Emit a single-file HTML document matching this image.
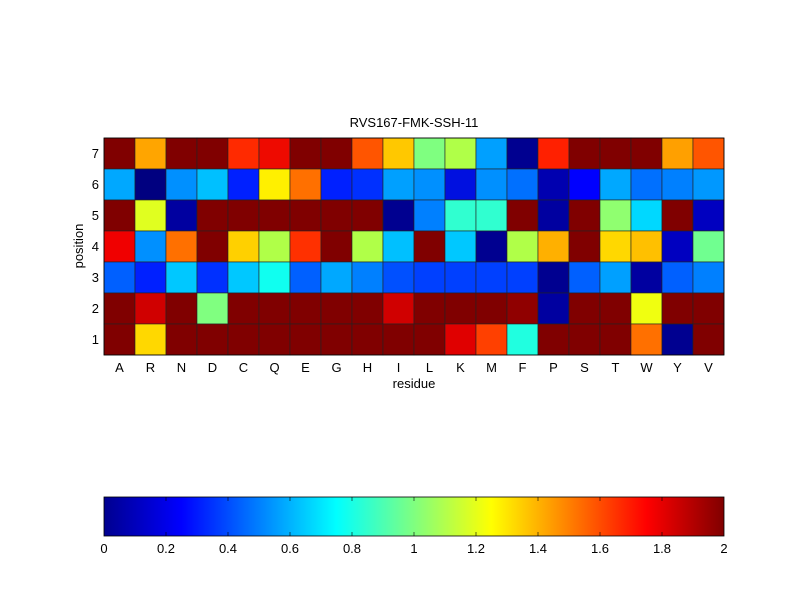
<!DOCTYPE html>
<html><head><meta charset="utf-8"><style>body{margin:0;background:#fff}svg{display:block}text{font-family:"Liberation Sans",sans-serif;font-size:13px;fill:#000}</style></head>
<body>
<svg width="800" height="600" xmlns="http://www.w3.org/2000/svg">
<defs>
<linearGradient id="jet" x1="0" x2="1" y1="0" y2="0">
<stop offset="0" stop-color="#00008F"/><stop offset="0.125" stop-color="#0000FF"/><stop offset="0.375" stop-color="#00FFFF"/><stop offset="0.625" stop-color="#FFFF00"/><stop offset="0.875" stop-color="#FF0000"/><stop offset="1" stop-color="#800000"/>
</linearGradient>
</defs>
<text x="414" y="127" text-anchor="middle">RVS167-FMK-SSH-11</text>
<g id="cells" stroke="#222" stroke-width="0.6"></g>
<rect x="104" y="138" width="620" height="217" fill="none" stroke="#000" stroke-width="0.8"/>
<g id="yt" text-anchor="end"></g>
<g id="xt" text-anchor="middle"></g>
<text x="414" y="388" text-anchor="middle">residue</text>
<text transform="translate(83,246) rotate(-90)" text-anchor="middle">position</text>
<rect x="104" y="497" width="620" height="39" fill="url(#jet)" stroke="#000" stroke-width="0.8"/>
<g id="cb" text-anchor="middle"></g>
</svg>
<script>
const D="#800000";
const rows=[
[D,"#FFA500",D,D,"#FF2A00","#EE0A00",D,D,"#FF5500","#FFC800","#7FFF80","#B0FF48","#00A0FF","#000090","#FF2000",D,D,D,"#FFA000","#FF5500"],
["#00A8FF","#000080","#0090FF","#00C0FF","#0020FF","#FFF000","#FF7000","#0020FF","#0030FF","#00A0FF","#0090FF","#0010E0","#0090FF","#0070FF","#0000B0","#0000FF","#00A8FF","#0070FF","#0080FF","#0098FF"],
[D,"#E0FF20","#0000A0",D,D,D,D,D,D,"#000090","#0080FF","#30FFD0","#30FFD0",D,"#0000A0",D,"#90FF70","#00D8FF",D,"#0000C0"],
["#F00000","#0090FF","#FF7000",D,"#FFD000","#B0FF48","#FF3000",D,"#B0FF48","#00C0FF",D,"#00C8FF","#000090","#B0FF48","#FFB000",D,"#FFD800","#FFC000","#0000C0","#70FF90"],
["#0060FF","#0020FF","#00C8FF","#0030FF","#00C8FF","#10FFF0","#0060FF","#00A8FF","#0080FF","#0050FF","#0040FF","#0040FF","#0040FF","#0040FF","#000090","#0060FF","#00A0FF","#0000A0","#0060FF","#0080FF"],
[D,"#D00000",D,"#80FF80",D,D,D,D,D,"#D00000",D,D,D,"#900000","#0000A0",D,D,"#F0FF10",D,D],
[D,"#FFD800",D,D,D,D,D,D,D,D,D,"#E00000","#FF4000","#20FFE0",D,D,D,"#FF7000","#000090",D]];
const NS="http://www.w3.org/2000/svg";
function el(t,a,p,txt){const e=document.createElementNS(NS,t);for(const k in a)e.setAttribute(k,a[k]);if(txt!=null)e.textContent=txt;document.getElementById(p).appendChild(e);}
const res="ARNDCQEGHILKMFPSTWYV";
rows.forEach((r,i)=>r.forEach((c,j)=>el("rect",{x:104+j*31,y:138+i*31,width:31,height:31,fill:c},"cells")));
for(let i=0;i<7;i++)el("text",{x:99,y:138+i*31+20},"yt",String(7-i));
for(let j=0;j<20;j++)el("text",{x:104+j*31+15.5,y:372},"xt",res[j]);
for(let k=0;k<=10;k++){const x=104+k*62;el("text",{x:x,y:553},"cb",["0","0.2","0.4","0.6","0.8","1","1.2","1.4","1.6","1.8","2"][k]);
if(k>0&&k<10){el("line",{x1:x,x2:x,y1:497,y2:501,stroke:"#000","stroke-width":0.6},"cb");el("line",{x1:x,x2:x,y1:532,y2:536,stroke:"#000","stroke-width":0.6},"cb");}}
</script>
</body></html>
